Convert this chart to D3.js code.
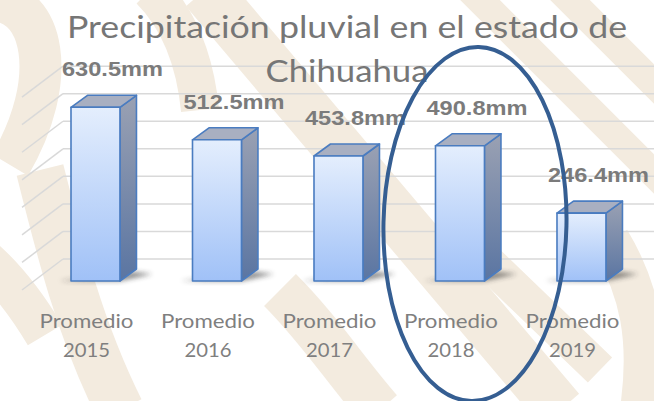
<!DOCTYPE html>
<html>
<head>
<meta charset="utf-8">
<script src="https://cdn.jsdelivr.net/npm/d3@7"></script>
<style>
  html, body { margin: 0; padding: 0; background: #fff; overflow: hidden; }
</style>
</head>
<body>
<div id="grafica"></div>
<script>
// datos
const categorias = ["Promedio 2015", "Promedio 2016", "Promedio 2017", "Promedio 2018", "Promedio 2019"]
const precipitacion = [630.5, 512.5, 453.8, 490.8, 246.4]
const ticksY = [0, 100, 200, 300, 400, 500, 600, 700]
const titulo = ["Precipitación pluvial en el estado de", "Chihuahua"]
const resaltada = "Promedio 2018"

var width = 654, height = 401
var prof = {dx: 16.5, dy: -12}      // profundidad de la barra
var pared = {dx: 41, dy: -31}       // profundidad del piso / pared

var svg = d3.select("#grafica").append("svg")
  .attr("width", width)
  .attr("height", height)

var defs = svg.append("defs")
var gFrente = defs.append("linearGradient").attr("id", "frente").attr("x1", 0).attr("y1", 0).attr("x2", 0).attr("y2", 1)
gFrente.append("stop").attr("offset", "0%").attr("stop-color", "#e4eefd")
gFrente.append("stop").attr("offset", "100%").attr("stop-color", "#a0c1f7")
var gLado = defs.append("linearGradient").attr("id", "lado").attr("x1", 0).attr("y1", 0).attr("x2", 0).attr("y2", 1)
gLado.append("stop").attr("offset", "0%").attr("stop-color", "#9aa1b3")
gLado.append("stop").attr("offset", "100%").attr("stop-color", "#5a75a2")
defs.append("filter").attr("id", "difuso").attr("x", "-50%").attr("y", "-50%").attr("width", "200%").attr("height", "200%")
  .append("feGaussianBlur").attr("stdDeviation", 2.5)

// marca de agua de fondo (beige)
var fondo = svg.append("g").attr("fill", "none").attr("stroke", "#f3ebdf").attr("stroke-linecap", "butt")
var franjas = [
  {d: "M -10 0 C 45 0, 60 80, 10 165", w: 42},
  {d: "M 40 170 C 60 250, 80 330, 120 410", w: 48},
  {d: "M -20 255 C 10 280, 30 310, 45 335", w: 40},
  {d: "M 150 -10 C 180 20, 195 60, 200 110", w: 38},
  {d: "M 205 -10 L 560 410", w: 50},
  {d: "M 470 -10 L 680 200", w: 28},
  {d: "M 560 -10 L 680 110", w: 28},
  {d: "M 280 290 C 320 330, 345 370, 380 410", w: 45},
  {d: "M 470 245 L 600 370", w: 35},
  {d: "M 610 240 C 640 290, 650 340, 640 410", w: 40}
]
fondo.selectAll("path").data(franjas).enter().append("path")
  .attr("d", function(d) { return d.d })
  .attr("stroke-width", function(d) { return d.w })

// escalas
var x = d3.scaleBand()
  .domain(categorias)
  .range([34.55, 642.4])
  .paddingInner(0.597)
  .paddingOuter(0.3)

var y = d3.scaleLinear()
  .domain([0, 700])
  .range([281, 281 - 700 * 0.2755])

// lineas de cuadricula: pared del fondo y pared izquierda
var grid = svg.append("g").attr("stroke", "#d9d9d9").attr("stroke-width", 1.5)
grid.selectAll(".fondo").data(ticksY).enter().append("line")
  .attr("x1", 22 + pared.dx).attr("x2", width)
  .attr("y1", function(d) { return y(d) + 9 + pared.dy })
  .attr("y2", function(d) { return y(d) + 9 + pared.dy })
grid.selectAll(".izq").data(ticksY).enter().append("line")
  .attr("x1", 22).attr("x2", 22 + pared.dx)
  .attr("y1", function(d) { return y(d) + 9 })
  .attr("y2", function(d) { return y(d) + 9 + pared.dy })

// titulo
svg.append("g").selectAll("text").data(titulo).enter().append("text")
  .attr("x", 347)
  .attr("y", function(d, i) { return 38 + i * 44 })
  .attr("text-anchor", "middle")
  .attr("font-family", "Lato, 'Open Sans', sans-serif")
  .attr("font-size", 30)
  .attr("fill", "#767676")
  .attr("textLength", function(d, i) { return i == 0 ? 560 : 163 })
  .attr("lengthAdjust", "spacingAndGlyphs")
  .text(function(d) { return d })

var datos = categorias.map(function(c, i) { return {cat: c, valor: precipitacion[i]} })
var w = x.bandwidth()

// sombras
svg.append("g").selectAll("polygon").data(datos).enter().append("polygon")
  .attr("points", function(d) {
    var x0 = x(d.cat), yb = y(0)
    return [[x0 - 12, yb], [x0 + w, yb], [x0 + w + prof.dx + 16, yb + prof.dy + 5], [x0 + w + prof.dx - 2, yb + prof.dy + 3]].join(" ")
  })
  .attr("fill", "#2b2b2b")
  .attr("opacity", 0.55)
  .attr("filter", "url(#difuso)")

// barras 3D
var barras = svg.append("g").selectAll("g").data(datos).enter().append("g")
  .attr("stroke", "#4a7cc0")
  .attr("stroke-width", 1.6)
  .attr("stroke-linejoin", "round")

barras.append("polygon")
  .attr("points", function(d) {
    var x0 = x(d.cat), yt = y(d.valor), yb = y(0)
    return [[x0 + w, yt], [x0 + w + prof.dx, yt + prof.dy], [x0 + w + prof.dx, yb + prof.dy], [x0 + w, yb]].join(" ")
  })
  .attr("fill", "url(#lado)")

barras.append("polygon")
  .attr("points", function(d) {
    var x0 = x(d.cat), yt = y(d.valor)
    return [[x0, yt], [x0 + prof.dx, yt + prof.dy], [x0 + w + prof.dx, yt + prof.dy], [x0 + w, yt]].join(" ")
  })
  .attr("fill", "#a8afc1")

barras.append("rect")
  .attr("x", function(d) { return x(d.cat) })
  .attr("y", function(d) { return y(d.valor) })
  .attr("width", w)
  .attr("height", function(d) { return y(0) - y(d.valor) })
  .attr("fill", "url(#frente)")

// etiquetas de valores
svg.append("g").selectAll("text").data(datos).enter().append("text")
  .attr("x", function(d) { return x(d.cat) + w / 2 + 17 })
  .attr("y", function(d) { return y(d.valor) - 31 })
  .attr("text-anchor", "middle")
  .attr("font-family", "'Liberation Sans', Arial, sans-serif")
  .attr("font-weight", "bold")
  .attr("font-size", 21)
  .attr("fill", "#7b7b7b")
  .attr("textLength", 101)
  .attr("lengthAdjust", "spacingAndGlyphs")
  .text(function(d) { return d.valor.toFixed(1) + "mm" })

// etiquetas de categorias (dos lineas)
var cats = svg.append("g").selectAll("text").data(categorias).enter().append("text")
  .attr("text-anchor", "middle")
  .attr("font-family", "Lato, 'Open Sans', sans-serif")
  .attr("font-size", 20)
  .attr("fill", "#7f7f7f")
cats.each(function(c) {
  var partes = c.split(" ")
  var cx = x(c) + w / 2 - 9
  d3.select(this).selectAll("tspan").data(partes).enter().append("tspan")
    .attr("x", cx)
    .attr("y", function(d, i) { return 328 + i * 29 })
    .attr("textLength", function(d, i) { return i == 0 ? 94 : 47 })
    .attr("lengthAdjust", "spacingAndGlyphs")
    .text(function(d) { return d })
})

// elipse que resalta 2018
svg.append("ellipse")
  .attr("cx", x(resaltada) + w / 2 + 15)
  .attr("cy", 224)
  .attr("rx", 91.5)
  .attr("ry", 177)
  .attr("transform", "rotate(1.2," + (x(resaltada) + w / 2 + 15) + ",224)")
  .attr("fill", "none")
  .attr("stroke", "#355e92")
  .attr("stroke-width", 4)
</script>
</body>
</html>
